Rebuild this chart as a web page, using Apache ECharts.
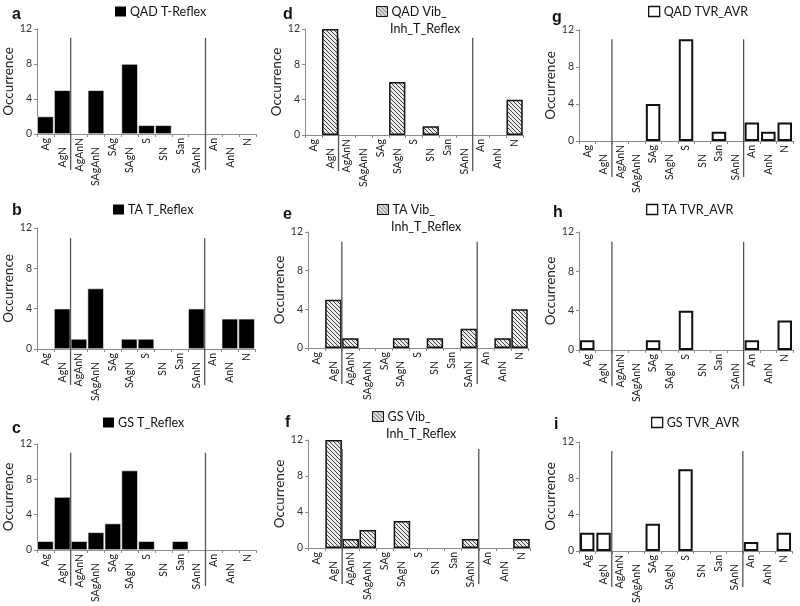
<!DOCTYPE html>
<html>
<head>
<meta charset="utf-8">
<script src="https://cdn.jsdelivr.net/npm/echarts@6/dist/echarts.min.js"></script>
<style>html,body{margin:0;padding:0;background:#fff}#c{width:800px;height:606px}</style>
</head>
<body>
<div id="c"></div>
<script>
const categories = ['Ag','AgN','AgAnN','SAgAnN','SAg','SAgN','S','SN','San','SAnN','An','AnN','N'];
const yTicks = [0, 4, 8, 12];

const qadTReflex   = [2, 5, 0, 5, 0, 8, 1, 1, 0, 0, 0, 0, 0];
const taTReflex    = [0, 4, 1, 6, 0, 1, 1, 0, 0, 4, 0, 3, 3];
const gsTReflex    = [1, 6, 1, 2, 3, 9, 1, 0, 1, 0, 0, 0, 0];
const qadVib       = [0, 12, 0, 0, 0, 6, 0, 1, 0, 0, 0, 0, 4];
const taVib        = [0, 5, 1, 0, 0, 1, 0, 1, 0, 2, 0, 1, 4];
const gsVib        = [0, 12, 1, 2, 0, 3, 0, 0, 0, 1, 0, 0, 1];
const qadTVR       = [0, 0, 0, 0, 4, 0, 11, 0, 1, 0, 2, 1, 2];
const taTVR        = [1, 0, 0, 0, 1, 0, 4, 0, 0, 0, 1, 0, 3];
const gsTVR        = [2, 2, 0, 0, 3, 0, 9, 0, 0, 0, 1, 0, 2];

const seriesNames = ['QAD T-Reflex','TA T_Reflex','GS T_Reflex',
  'QAD Vib_\nInh_T_Reflex','TA Vib_\nInh_T_Reflex','GS Vib_\nInh_T_Reflex',
  'QAD TVR_AVR','TA TVR_AVR','GS TVR_AVR'];
const panelLetters = ['a','b','c','d','e','f','g','h','i'];
const seriesData = [qadTReflex, taTReflex, gsTReflex, qadVib, taVib, gsVib, qadTVR, taTVR, gsTVR];
const dividerAfter = ['AgN', 'SAnN'];

// layout
const grids = [
  {left:37, top:29, width:219, height:105},
  {left:37, top:228, width:218, height:121},
  {left:37, top:444, width:219, height:106},
  {left:305, top:29, width:218, height:106},
  {left:308, top:232, width:220, height:116},
  {left:308, top:440, width:222, height:108},
  {left:579, top:30, width:214, height:111},
  {left:579, top:232, width:214, height:118},
  {left:579, top:442, width:213, height:109}
];
const legendPos = [
  {left:115, top:5}, {left:113, top:203}, {left:103, top:416},
  {left:376, top:5}, {left:377, top:203}, {left:372, top:410},
  {left:648, top:5}, {left:646, top:203}, {left:651, top:416}
];
const letterPos = [
  {left:7, top:2}, {left:7, top:198}, {left:7, top:416},
  {left:278, top:2}, {left:278, top:202}, {left:280, top:410},
  {left:547, top:5}, {left:548, top:200}, {left:549, top:412}
];

// hatch pattern
const pc = document.createElement('canvas');
pc.width = 4; pc.height = 4;
const pctx = pc.getContext('2d');
pctx.fillStyle = '#ebebeb'; pctx.fillRect(0,0,4,4);
pctx.strokeStyle = '#444'; pctx.lineWidth = 1.0;
pctx.beginPath();
pctx.moveTo(0,0); pctx.lineTo(4,4);
pctx.moveTo(-2,2); pctx.lineTo(2,6);
pctx.moveTo(2,-2); pctx.lineTo(6,2);
pctx.stroke();

const FONT = 'Lato';
function styleFor(i){
  if (i < 3) return {color:'#000', borderColor:'#fff', borderWidth:0.6};
  if (i < 6) return {color:{image:pc, repeat:'repeat'}, borderColor:'#111', borderWidth:1.5};
  return {color:'#fff', borderColor:'#111', borderWidth:2};
}
function legendStyleFor(i){
  if (i < 3) return {borderWidth:0};
  if (i < 6) return {borderWidth:1};
  return {borderWidth:1.3};
}

const titles = panelLetters.map((t,i)=>({text:t, left:letterPos[i].left, top:letterPos[i].top,
     textStyle:{fontFamily:'Liberation Sans', fontWeight:'bold', fontSize:16, color:'#111'}}));
// second lines of two-line legend names
seriesNames.forEach((n,i)=>{
  const parts = n.split('\n');
  if (parts.length > 1) {
    titles.push({text:parts[1], left:legendPos[i].left + 14, top:legendPos[i].top + 17, padding:0,
      textStyle:{fontFamily:FONT, fontWeight:'normal', fontSize:12.5, color:'#111'}});
  }
});

const option = {
  animation:false,
  backgroundColor:'#fff',
  textStyle:{fontFamily:FONT},
  title: titles,
  grid: grids.map(g=>Object.assign({}, g)),
  legend: seriesNames.map((n,i)=>({data:[n], left:legendPos[i].left, top:legendPos[i].top,
     icon:'rect', itemWidth:11, itemHeight:10, itemGap:4, padding:0,
     itemStyle: legendStyleFor(i),
     formatter: name => name.split('\n')[0],
     textStyle:{fontFamily:FONT, fontSize:12.5, color:'#111', padding:[0,0,0,-1]},
     selectedMode:false})),
  xAxis: seriesNames.map((n,i)=>({
    type:'category', gridIndex:i, data:categories,
    axisLine:{lineStyle:{color:'#8a8a8a', width:1}},
    axisTick:{show:true, length:3, lineStyle:{color:'#8a8a8a'}},
    axisLabel:{rotate:90, interval:0, margin:4, fontFamily:FONT, fontSize:10.5, color:'#222',
      formatter:(v, idx)=> idx % 2 ? '{lo|' + v + '}' : '{hi|' + v + '}',
      rich:{hi:{fontFamily:FONT, fontSize:10.5, color:'#222'},
            lo:{fontFamily:FONT, fontSize:10.5, color:'#222', padding:[0,9,0,0]}}}
  })),
  yAxis: seriesNames.map((n,i)=>({
    type:'value', gridIndex:i, min:yTicks[0], max:yTicks[yTicks.length-1], interval:4,
    name:'Occurrence', nameLocation:'middle', nameGap:20, nameRotate:90,
    nameTextStyle:{fontFamily:FONT, fontSize:13.5, color:'#222'},
    axisLine:{show:true, lineStyle:{color:'#8a8a8a'}},
    axisTick:{show:true, length:3, lineStyle:{color:'#8a8a8a'}},
    axisLabel:{fontFamily:FONT, fontSize:10.5, color:'#333', margin:5},
    splitLine:{show:false}
  })),
  series: seriesNames.map((n,i)=>({
    type:'bar', name:n, xAxisIndex:i, yAxisIndex:i,
    data:seriesData[i].map(v => v === 0 ? '-' : v),
    barCategoryGap: i < 6 ? '3%' : '12%',
    itemStyle: styleFor(i)
  }))
};

const chart = echarts.init(document.getElementById('c'), null, {renderer:'canvas'});
chart.setOption(option);

// vertical dividers between category groups
const graphics = [];
for (let i = 0; i < 9; i++) {
  const yTop = chart.convertToPixel({yAxisIndex:i}, 11);
  const yZero = chart.convertToPixel({yAxisIndex:i}, 0);
  dividerAfter.forEach(cat=>{
    const k = categories.indexOf(cat);
    const x1 = chart.convertToPixel({xAxisIndex:i}, categories[k]);
    const x2 = chart.convertToPixel({xAxisIndex:i}, categories[k+1]);
    const x = (x1 + x2) / 2;
    graphics.push({type:'line', z:100, shape:{x1:x, y1:yTop, x2:x, y2:yZero + 36},
      style:{stroke:'#555', lineWidth:1.3}});
  });
}
chart.setOption({graphic:graphics});
</script>
</body>
</html>
